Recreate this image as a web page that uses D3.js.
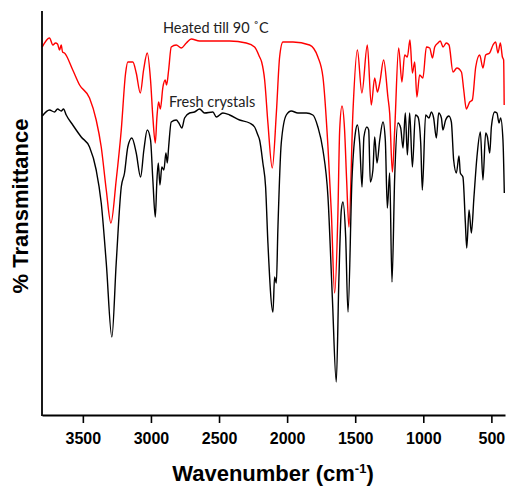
<!DOCTYPE html>
<html>
<head>
<meta charset="utf-8">
<script src="https://cdn.jsdelivr.net/npm/d3@7"></script>
<style>
  body { margin: 0; background: #fff; }
  svg { display: block; }
</style>
</head>
<body>
<svg id="chart" width="507" height="487"></svg>
<script>
// wavenumber (cm-1) and transmittance (arbitrary units)
var heatedWn = [3798,3745,3720,3701,3686,3671,3659,3649,3635,3574,3524,3451,3402,3365,3328,3294,3255,3218,3186,3170,
  3133,3108,3078,3054,3027,3003,2986,2968,2956,2944,2931,2912,2895,2885,2870,2851,2814,2777,2740,2704,
  2643,2557,2422,2300,2239,2202,2187,2165,2141,2109,2079,2055,2031,1957,1835,1774,1737,1700,1675,1651,
  1627,1614,1597,1578,1563,1546,1517,1484,1451,1411,1382,1357,1337,1320,1291,1260,1247,1227,1210,1181,
  1157,1137,1117,1098,1080,1063,1047,1027,1003,977,953,933,916,892,875,855,831,811,782,753,
  720,703,684,659,640,615,586,562,542,513,488,469,452,434,419,410,406];
var heatedT = [368,377,370,372,371,365,370,363,362,345,330,317,295,268,225,192,235,285,342,353,
  353,342,322,345,362,335,298,272,298,313,306,328,335,330,345,368,370,367,372,376,
  374,374,374,372,368,358,353,335,292,247,302,358,373,373,370,358,338,268,202,122,
  202,285,309,285,235,188,302,365,322,370,310,337,323,332,355,318,302,243,285,367,
  333,360,358,375,342,353,318,340,337,368,367,357,368,372,374,368,372,370,343,347,
  343,325,306,313,315,348,360,347,360,362,370,373,362,372,358,355,310];

var freshWn = [3798,3745,3708,3686,3659,3642,3622,3574,3512,3451,3402,3365,3328,3287,3255,3218,3194,3170,3140,3108,
  3076,3052,3027,3003,2986,2968,2956,2946,2934,2920,2905,2890,2880,2870,2851,2814,2795,2773,2753,2716,
  2680,2643,2606,2545,2520,2472,2422,2349,2276,2239,2215,2202,2178,2158,2141,2104,2092,2079,2068,2043,
  2006,1969,1921,1859,1811,1774,1737,1700,1668,1639,1620,1602,1590,1570,1553,1524,1499,1484,1467,1450,
  1436,1414,1401,1389,1370,1357,1340,1320,1296,1279,1264,1247,1230,1210,1186,1166,1149,1132,1117,1100,
  1080,1058,1039,1019,1007,983,958,941,924,904,887,867,856,836,812,794,777,757,738,728,
  709,691,681,664,647,628,606,581,562,542,529,512,500,476,459,444,432,415,405];
var freshT = [299,305,303,306,304,306,300,290,278,268,245,212,152,78,152,228,242,268,277,262,
  238,265,285,275,235,198,235,252,230,248,245,262,252,268,293,295,292,287,297,302,
  303,306,302,303,298,302,300,295,292,288,280,275,252,228,172,103,138,132,185,272,
  300,304,302,302,300,288,265,218,118,33,135,205,213,178,103,235,282,290,272,228,
  278,288,285,233,245,278,252,275,293,275,207,242,133,238,292,287,267,302,260,302,
  248,300,298,272,225,300,297,303,297,277,302,297,285,295,299,293,255,242,259,242,
  238,192,167,205,182,218,258,283,235,282,278,262,288,303,302,292,297,275,222];

var xTicks = [3500, 3000, 2500, 2000, 1500, 1000, 500];
var seriesNames = ["Heated till 90 \u02DAC", "Fresh crystals"];
var seriesColors = ["#ff0000", "#000000"];

var svg = d3.select("#chart");
var mLeft = 42, mRight = 505, mTop = 11, mBottom = 415;

var x = d3.scaleLinear().domain([3800, 400]).range([mLeft, mRight]);
var y = d3.scaleLinear().domain([0, 404]).range([mBottom, mTop]);

var line = d3.line()
    .x(function(d){ return x(d[0]); })
    .y(function(d){ return y(d[1]); })
    .curve(d3.curveMonotoneX);

var series = [d3.zip(heatedWn, heatedT), d3.zip(freshWn, freshT)];

svg.append("g")
    .selectAll("path")
    .data(series)
    .enter()
    .append("path")
        .attr("d", line)
        .attr("fill", "none")
        .attr("stroke", function(d, i){ return seriesColors[i]; })
        .attr("stroke-width", 1.4)
        .attr("stroke-linejoin", "round");

// x axis
var xAxis = svg.append("g")
    .attr("transform", "translate(0," + mBottom + ")")
    .call(d3.axisBottom(x).tickValues(xTicks).tickFormat(d3.format("d"))
        .tickSize(8).tickSizeOuter(0).tickPadding(10));
xAxis.select(".domain").attr("stroke-width", 1.8);
xAxis.selectAll(".tick line").attr("stroke-width", 1.6);
xAxis.selectAll("text")
    .style("font", "bold 16px 'Liberation Sans', Arial, sans-serif")
    .attr("fill", "#000");

// y axis line only
svg.append("line")
    .attr("x1", mLeft).attr("x2", mLeft)
    .attr("y1", mTop).attr("y2", mBottom + 0.9)
    .attr("stroke", "#000")
    .attr("stroke-width", 1.8);

// axis titles
var xt = svg.append("text")
    .attr("x", 273)
    .attr("y", 481)
    .attr("text-anchor", "middle")
    .style("font", "bold 22px 'Liberation Sans', Arial, sans-serif");
xt.append("tspan").text("Wavenumber (cm");
xt.append("tspan").attr("dy", -8).style("font-size", "13px").text("-1");
xt.append("tspan").attr("dy", 8).text(")");

svg.append("text")
    .attr("transform", "translate(28,206) rotate(-90)")
    .attr("text-anchor", "middle")
    .style("font", "bold 22px 'Liberation Sans', Arial, sans-serif")
    .text("% Transmittance");

// series labels
svg.selectAll("text.lbl")
    .data(seriesNames)
    .enter()
    .append("text")
        .attr("class", "lbl")
        .attr("x", function(d, i){ return i == 0 ? 163 : 169; })
        .attr("y", function(d, i){ return i == 0 ? 33 : 107; })
        .style("font", "14.5px Lato, 'Open Sans', sans-serif")
        .attr("fill", "#222")
        .text(function(d){ return d; });
</script>
</body>
</html>
